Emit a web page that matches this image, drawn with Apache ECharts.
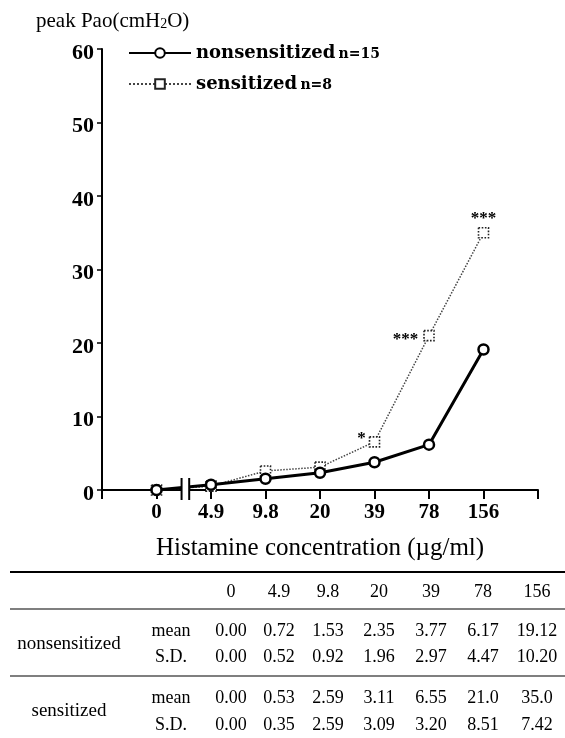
<!DOCTYPE html>
<html><head><meta charset="utf-8">
<script src="https://cdn.jsdelivr.net/npm/echarts@6/dist/echarts.min.js"></script>
<style>html,body{margin:0;padding:0;background:#fff}#chart{width:565px;height:738px}</style>
</head><body><div id="chart"></div>
<script>
// Histamine dose levels (µg/ml) and peak airway pressure summary per group
const concentrations = ['0', '4.9', '9.8', '20', '39', '78', '156'];
const nonsensMean = ['0.00', '0.72', '1.53', '2.35', '3.77', '6.17', '19.12'];
const nonsensSD   = ['0.00', '0.52', '0.92', '1.96', '2.97', '4.47', '10.20'];
const sensMean    = ['0.00', '0.53', '2.59', '3.11', '6.55', '21.0', '35.0'];
const sensSD      = ['0.00', '0.35', '2.59', '3.09', '3.20', '8.51', '7.42'];
const sensMarks   = ['', '', '', '', '*', '***', '***'];
const groupNames  = ['nonsensitized', 'sensitized'];
const groupN      = [15, 8];
const yMin = 0, yMax = 60, yStep = 10;

const SERIF = "'Liberation Serif', 'Times New Roman', serif";
const WIDE_SERIF = "'DejaVu Serif', 'Liberation Serif', serif";
const chart = echarts.init(document.getElementById('chart'), null, { renderer: 'canvas' });

const toPoints = arr => arr.map((v, i) => [i, Number(v)]);

// where each significance mark sits relative to its point
const markPlacement = {
  4: { position: 'left', offset: [2, -3] },
  5: { position: 'left', offset: [0, 4] },
  6: { position: 'top', offset: [0, 5] }
};

const sensData = toPoints(sensMean).map((p, i) => {
  const item = { value: p };
  if (sensMarks[i]) {
    item.label = Object.assign({
      show: true, formatter: sensMarks[i], distance: 5,
      fontFamily: SERIF, fontWeight: 'bold', fontSize: 17, color: '#000'
    }, markPlacement[i]);
  }
  return item;
});

const option = {
  backgroundColor: '#fff',
  animation: false,
  title: {
    text: '{t|peak Pao(cmH}{s|2}{t|O)}',
    left: 31, top: 6,
    textStyle: {
      fontWeight: 'normal',
      rich: {
        t: { fontFamily: SERIF, fontSize: 21, fontWeight: 'normal', color: '#000' },
        s: { fontFamily: SERIF, fontSize: 14, fontWeight: 'normal', color: '#000', padding: [6, 0, 0, 0] }
      }
    }
  },
  legend: {
    orient: 'vertical',
    left: 123, top: 39,
    itemWidth: 62, itemHeight: 12, itemGap: 13,
    data: groupNames,
    formatter: name => `{a|${name}} {b|n=${groupN[groupNames.indexOf(name)]}}`,
    textStyle: {
      rich: {
        a: { fontFamily: WIDE_SERIF, fontWeight: 'bold', fontSize: 18, color: '#000' },
        b: { fontFamily: WIDE_SERIF, fontWeight: 'bold', fontSize: 14, color: '#000', padding: [3, 0, 0, 0] }
      }
    }
  },
  grid: { left: 102, right: 27, top: 49, bottom: 248, containLabel: false },
  xAxis: {
    type: 'value', min: -1, max: concentrations.length, interval: 1,
    name: 'Histamine concentration (\u00b5g/ml)',
    nameLocation: 'middle', nameGap: 46,
    nameTextStyle: { fontFamily: SERIF, fontSize: 25, color: '#000' },
    axisLine: { show: true, onZero: false, lineStyle: { color: '#000', width: 2 } },
    axisTick: { show: true, length: 9, lineStyle: { color: '#000', width: 2 } },
    axisLabel: {
      margin: 12, fontFamily: SERIF, fontWeight: 'bold', fontSize: 21, color: '#000',
      formatter: v => (v >= 0 && v < concentrations.length) ? concentrations[v] : ''
    },
    splitLine: { show: false }
  },
  yAxis: {
    type: 'value', min: yMin, max: yMax, interval: yStep,
    axisLine: { show: true, onZero: false, lineStyle: { color: '#000', width: 2 } },
    axisTick: { show: true, length: 5, lineStyle: { color: '#000', width: 1.5 } },
    axisLabel: {
      margin: 8, fontFamily: SERIF, fontWeight: 'bold', fontSize: 22, color: '#000',
      verticalAlign: 'top', lineHeight: 8
    },
    splitLine: { show: false }
  },
  series: [
    {
      name: groupNames[1], type: 'line', z: 2,
      data: sensData,
      symbol: 'rect', symbolSize: 10,
      lineStyle: { color: '#444', width: 1.5, type: 'dotted' },
      itemStyle: { color: '#fff', borderColor: '#222', borderWidth: 1.6, borderType: 'dotted' }
    },
    {
      name: groupNames[0], type: 'line', z: 3,
      data: toPoints(nonsensMean),
      symbol: 'circle', symbolSize: 10,
      lineStyle: { color: '#000', width: 3 },
      itemStyle: { color: '#fff', borderColor: '#000', borderWidth: 2.5 }
    }
  ]
};
chart.setOption(option);

// axis break between the 0 and 4.9 doses, plus the summary table
const breakAt = [0.46, 0.6];
const gfx = [];
const b0 = chart.convertToPixel({ gridIndex: 0 }, [breakAt[0], 0]);
const b1 = chart.convertToPixel({ gridIndex: 0 }, [breakAt[1], 0]);
gfx.push({ type: 'rect', z: 100, shape: { x: b0[0], y: b0[1] - 6, width: b1[0] - b0[0], height: 12 }, style: { fill: '#fff' } });
[b0, b1].forEach(p => gfx.push({
  type: 'line', z: 101,
  shape: { x1: p[0], y1: p[1] - 12, x2: p[0], y2: p[1] + 10 },
  style: { stroke: '#000', lineWidth: 2 }
}));

const colX = [231, 279, 328, 379, 431, 483, 537];
const txt = (s, x, y, size) => ({
  type: 'text', z: 100, x: x, y: y,
  style: { text: s, fontFamily: SERIF, fontSize: size || 18, fill: '#000', align: 'center', verticalAlign: 'middle' }
});
const hline = (y, w) => ({ type: 'line', z: 100, shape: { x1: 10, y1: y, x2: 565, y2: y }, style: { stroke: '#000', lineWidth: w } });

gfx.push(hline(572, 2), hline(609, 1.2), hline(676, 1.2));
concentrations.forEach((c, i) => gfx.push(txt(c, colX[i], 592)));
const rows = [
  { group: groupNames[0], gy: 644, stats: [['mean', nonsensMean, 631], ['S.D.', nonsensSD, 657]] },
  { group: groupNames[1], gy: 711, stats: [['mean', sensMean, 698], ['S.D.', sensSD, 725]] }
];
rows.forEach(r => {
  gfx.push(txt(r.group, 69, r.gy, 19));
  r.stats.forEach(([label, vals, y]) => {
    gfx.push(txt(label, 171, y));
    vals.forEach((v, i) => gfx.push(txt(v, colX[i], y)));
  });
});
chart.setOption({ graphic: gfx });
</script>
</body></html>
